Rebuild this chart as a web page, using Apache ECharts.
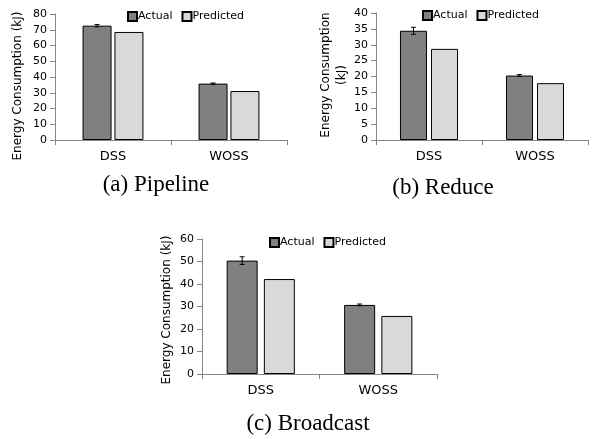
<!DOCTYPE html>
<html><head><meta charset="utf-8">
<script src="https://cdn.jsdelivr.net/npm/echarts@6/dist/echarts.min.js"></script>
<style>html,body{margin:0;padding:0;background:#fff}#c{width:598px;height:439px}</style>
</head><body><div id="c"></div>
<script>
const categories = ['DSS', 'WOSS'];
const seriesNames = ['Actual', 'Predicted'];
const pipelineActual = [72.6, 35.8];
const pipelinePredicted = [68.6, 31.1];
const pipelineErr = [0.7, 0.4];
const reduceActual = [34.4, 20.3];
const reducePredicted = [28.7, 17.9];
const reduceErr = [1.1, 0.3];
const broadcastActual = [50.4, 30.7];
const broadcastPredicted = [42.2, 25.8];
const broadcastErr = [1.7, 0.4];
const yTicks = { pipeline: [0, 80, 10], reduce: [0, 40, 5], broadcast: [0, 60, 10] };
const captions = ['(a) Pipeline', '(b) Reduce', '(c) Broadcast'];
const yNames = ['Energy Consumption (kJ)', 'Energy Consumption\n(kJ)', 'Energy Consumption (kJ)'];

const panels = [
  { act: pipelineActual, pred: pipelinePredicted, err: pipelineErr, ticks: yTicks.pipeline,
    grid: { left: 55, top: 14, width: 232, height: 126 }, bw: 29, gap: 0.1,
    namePos: [18, 86], legend: { left: 127, top: 11 }, cap: [156, 185] },
  { act: reduceActual, pred: reducePredicted, err: reduceErr, ticks: yTicks.reduce,
    grid: { left: 376, top: 13, width: 212, height: 127 }, bw: 27, gap: 0.15,
    namePos: [334, 75], legend: { left: 422, top: 10 }, cap: [443, 188] },
  { act: broadcastActual, pred: broadcastPredicted, err: broadcastErr, ticks: yTicks.broadcast,
    grid: { left: 202, top: 239, width: 235, height: 135 }, bw: 31, gap: 0.2,
    namePos: [167, 310], legend: { left: 269, top: 237 }, cap: [308, 424] }
];

const axisColor = '#868686';
const font = 'DejaVu Sans';
const grids = [], xAxes = [], yAxes = [], series = [], legends = [], graphics = [];

function errRender(offset) {
  return function (params, api) {
    const c = api.value(0), v = api.value(1), e = api.value(2);
    const t = api.coord([c, v + e]);
    const b = api.coord([c, v - e]);
    const x = t[0] + offset;
    const st = { stroke: '#000', lineWidth: 1 };
    return { type: 'group', children: [
      { type: 'line', shape: { x1: x, y1: t[1], x2: x, y2: b[1] }, style: st },
      { type: 'line', shape: { x1: x - 2.5, y1: t[1], x2: x + 2.5, y2: t[1] }, style: st },
      { type: 'line', shape: { x1: x - 2.5, y1: b[1], x2: x + 2.5, y2: b[1] }, style: st }
    ] };
  };
}

panels.forEach((p, i) => {
  grids.push(p.grid);
  xAxes.push({
    type: 'category', gridIndex: i, data: categories,
    axisLine: { lineStyle: { color: axisColor } },
    axisTick: { show: true, length: 5, lineStyle: { color: axisColor } },
    axisLabel: { color: '#000', fontFamily: font, fontSize: 13, margin: 10 }
  });
  yAxes.push({
    type: 'value', gridIndex: i, min: p.ticks[0], max: p.ticks[1], interval: p.ticks[2],
    axisLine: { show: true, lineStyle: { color: axisColor } },
    axisTick: { show: true, length: 5, lineStyle: { color: axisColor } },
    splitLine: { show: false },
    axisLabel: { color: '#000', fontFamily: font, fontSize: 11, margin: 8 }
  });
  series.push({
    name: seriesNames[0], type: 'bar', xAxisIndex: i, yAxisIndex: i, data: p.act,
    barWidth: p.bw, barGap: (p.gap * 100) + '%',
    itemStyle: { color: '#808080', borderColor: '#000', borderWidth: 1 }
  });
  series.push({
    name: seriesNames[1], type: 'bar', xAxisIndex: i, yAxisIndex: i, data: p.pred,
    barWidth: p.bw, barGap: (p.gap * 100) + '%',
    itemStyle: { color: '#d9d9d9', borderColor: '#000', borderWidth: 1 }
  });
  series.push({
    name: 'err' + i, type: 'custom', xAxisIndex: i, yAxisIndex: i, z: 10,
    renderItem: errRender(-(p.bw + p.bw * p.gap) / 2),
    data: p.act.map((v, k) => [k, v, p.err[k]]),
    encode: { x: 0, y: 1 }
  });
  legends.push({
    data: seriesNames, left: p.legend.left, top: p.legend.top, orient: 'horizontal', padding: 0,
    icon: 'rect', itemWidth: 9, itemHeight: 9, itemGap: 9, selectedMode: false,
    textStyle: { color: '#000', fontFamily: font, fontSize: 11, padding: [0, 0, 0, -4] }
  });
  graphics.push({
    type: 'text', x: p.namePos[0], y: p.namePos[1], rotation: Math.PI / 2,
    style: { text: yNames[i], fill: '#000', font: '12px "DejaVu Sans"', lineHeight: 16, textAlign: 'center', textVerticalAlign: 'middle' }
  });
  graphics.push({
    type: 'text', x: p.cap[0], y: p.cap[1],
    style: { text: captions[i], fill: '#000', font: '23px "Liberation Serif"', textAlign: 'center', textVerticalAlign: 'middle' }
  });
});

const chart = echarts.init(document.getElementById('c'), null, { renderer: 'canvas' });
chart.setOption({
  animation: false, backgroundColor: '#fff',
  grid: grids, xAxis: xAxes, yAxis: yAxes, series: series, legend: legends, graphic: graphics
});
</script></body></html>
